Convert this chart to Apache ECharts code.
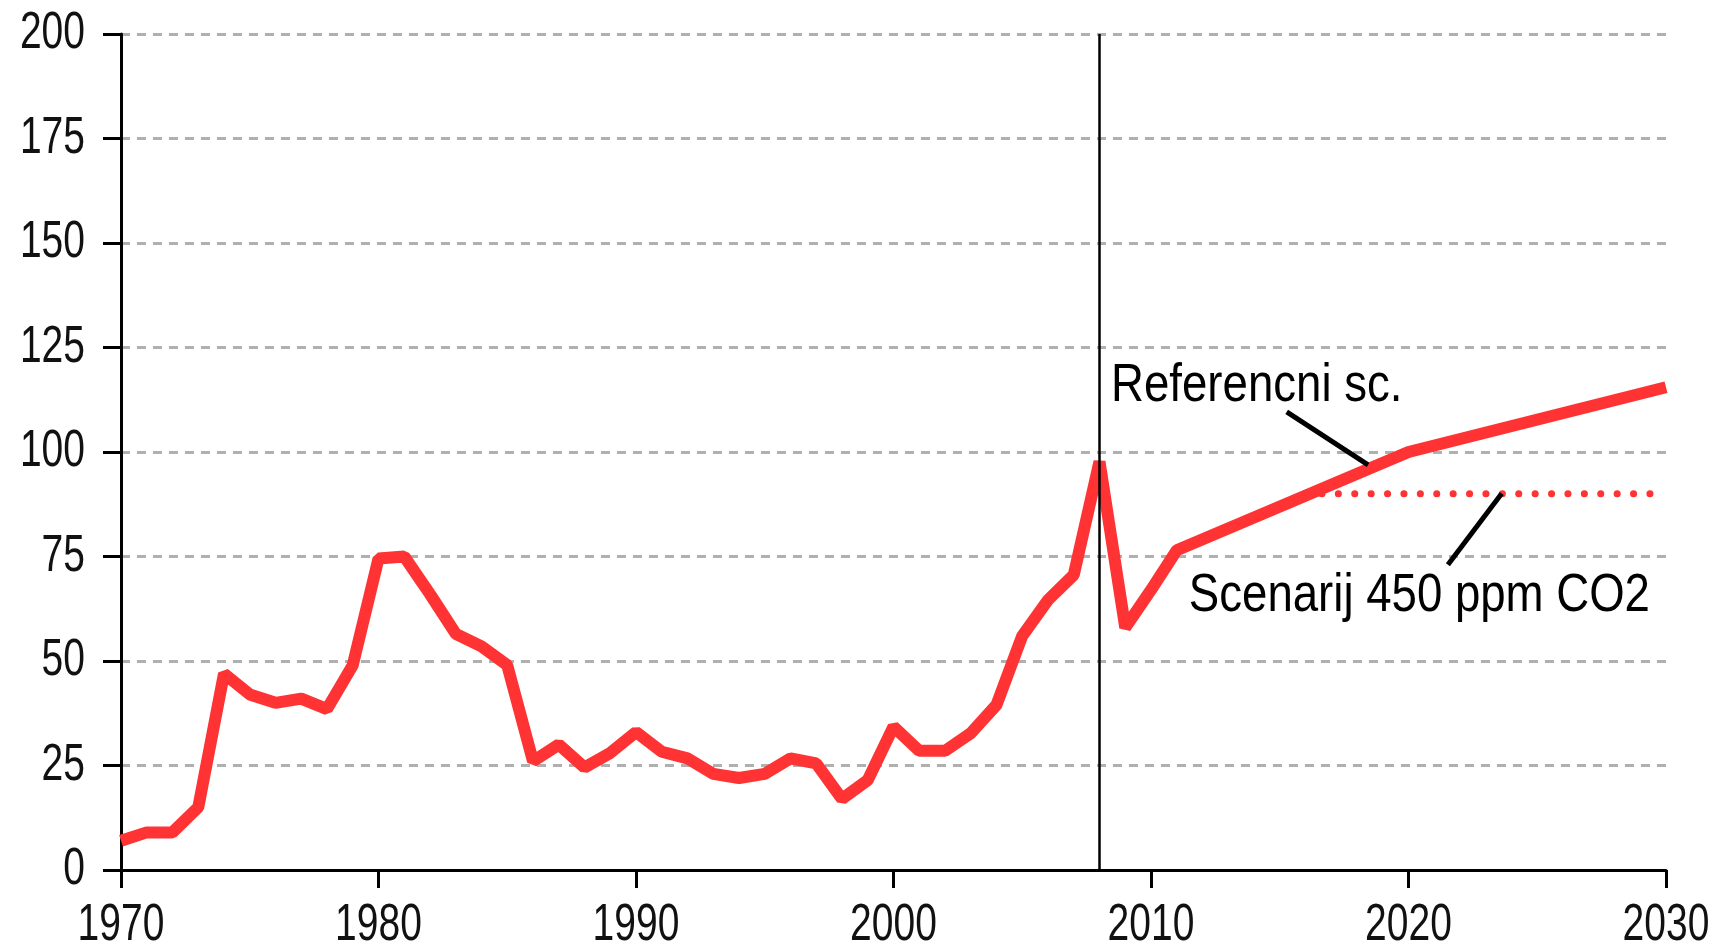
<!DOCTYPE html>
<html>
<head>
<meta charset="utf-8">
<script src="https://cdn.jsdelivr.net/npm/echarts@6/dist/echarts.min.js"></script>
<style>
  html, body { margin: 0; padding: 0; background: #fff; }
  #chart { width: 1713px; height: 943px; }
</style>
</head>
<body>
<div id="chart"></div>
<script>
// history + reference scenario
var years = [1970, 1971, 1972, 1973, 1974, 1975, 1976, 1977, 1978, 1979,
  1980, 1981, 1982, 1983, 1984, 1985, 1986, 1987, 1988, 1989,
  1990, 1991, 1992, 1993, 1994, 1995, 1996, 1997, 1998, 1999,
  2000, 2001, 2002, 2003, 2004, 2005, 2006, 2007, 2008, 2009,
  2010, 2011, 2020, 2030]
var values = [7, 9, 9, 15, 47, 42, 40, 41, 38.5, 49,
  74.5, 75, 66, 56.5, 53.5, 49, 26, 30, 24.5, 28,
  33, 28.3, 26.7, 23, 22, 23, 26.7, 25.5, 17, 21.5,
  34.3, 28.5, 28.5, 32.7, 39.5, 56, 64.6, 70.6, 97.7, 58,
  67, 76.5, 100, 115.5]

// 450 ppm scenario
var scenYears = [2016, 2030]
var scenValues = [90, 90]

var yTicks = [0, 25, 50, 75, 100, 125, 150, 175, 200]
var xTicks = [1970, 1980, 1990, 2000, 2010, 2020, 2030]

var labelRef = 'Referencni sc.'
var labelScen = 'Scenarij 450 ppm CO2'

// the source picture is squeezed sideways, so text gets a scaleX
var font = "'Liberation Sans', Arial, sans-serif"
var red = '#ff3333'

var mainData = years.map(function (y, i) { return [y, values[i]] })
var scenData = scenYears.map(function (y, i) { return [y, scenValues[i]] })

var myChart = echarts.init(document.getElementById('chart'))
var option = {
  animation: false,
  backgroundColor: '#fff',
  grid: { left: 121, right: 47, top: 34, bottom: 73 },
  xAxis: {
    type: 'value',
    min: xTicks[0],
    max: xTicks[xTicks.length - 1],
    interval: 10,
    axisLine: { lineStyle: { color: '#000', width: 3 } },
    axisTick: { length: 18, lineStyle: { color: '#000', width: 3 } },
    axisLabel: { show: false },
    splitLine: { show: false }
  },
  yAxis: {
    type: 'value',
    min: yTicks[0],
    max: yTicks[yTicks.length - 1],
    interval: 25,
    axisLine: { show: true, lineStyle: { color: '#000', width: 3 } },
    axisTick: { show: true, length: 18, lineStyle: { color: '#000', width: 3 } },
    axisLabel: { show: false },
    splitLine: { lineStyle: { color: '#b0b0b0', width: 3, type: [9, 7] } }
  },
  series: [
    {
      name: labelScen,
      type: 'line',
      data: scenData,
      showSymbol: false,
      lineStyle: { color: red, width: 7, type: [0.1, 16.3], cap: 'round' },
      z: 2
    },
    {
      name: labelRef,
      type: 'line',
      data: mainData,
      showSymbol: false,
      lineStyle: { color: red, width: 12 },
      z: 3
    },
    {
      name: 'annot',
      type: 'line',
      data: [],
      z: 5,
      markLine: {
        silent: true,
        symbol: ['none', 'none'],
        label: { show: false },
        animation: false,
        data: [
          { xAxis: 2008, lineStyle: { color: '#000', width: 2.5, type: 'solid' } },
          [{ coord: [2015.27, 109.6], lineStyle: { color: '#000', width: 5, type: 'solid' } }, { coord: [2018.43, 96.9] }],
          [{ coord: [2021.53, 73.0], lineStyle: { color: '#000', width: 5, type: 'solid' } }, { coord: [2023.62, 90.1] }]
        ]
      }
    }
  ]
}
myChart.setOption(option)

// tick labels and notes, placed through the chart's own scales
function px (x, y) {
  return myChart.convertToPixel({ gridIndex: 0 }, [x, y])
}
var graphics = []
yTicks.forEach(function (v) {
  var p = px(xTicks[0], v)
  graphics.push({
    type: 'text', x: p[0] - 36, y: p[1], scaleX: 0.75, silent: true,
    style: { text: String(v), font: '52px ' + font, fill: '#111', align: 'right', verticalAlign: 'middle' }
  })
})
xTicks.forEach(function (v) {
  var p = px(v, 0)
  graphics.push({
    type: 'text', x: p[0], y: p[1] + 30, scaleX: 0.75, silent: true,
    style: { text: String(v), font: '52px ' + font, fill: '#111', align: 'center', verticalAlign: 'top' }
  })
})
var notes = [
  { text: labelRef, at: [2008.45, 115.6] },
  { text: labelScen, at: [2011.47, 65.4] }
]
notes.forEach(function (n) {
  var p = px(n.at[0], n.at[1])
  graphics.push({
    type: 'text', x: p[0], y: p[1], scaleX: 0.86, silent: true, z: 10,
    style: { text: n.text, font: '53px ' + font, fill: '#000', align: 'left', verticalAlign: 'middle' }
  })
})
myChart.setOption({ graphic: graphics })
</script>
</body>
</html>
